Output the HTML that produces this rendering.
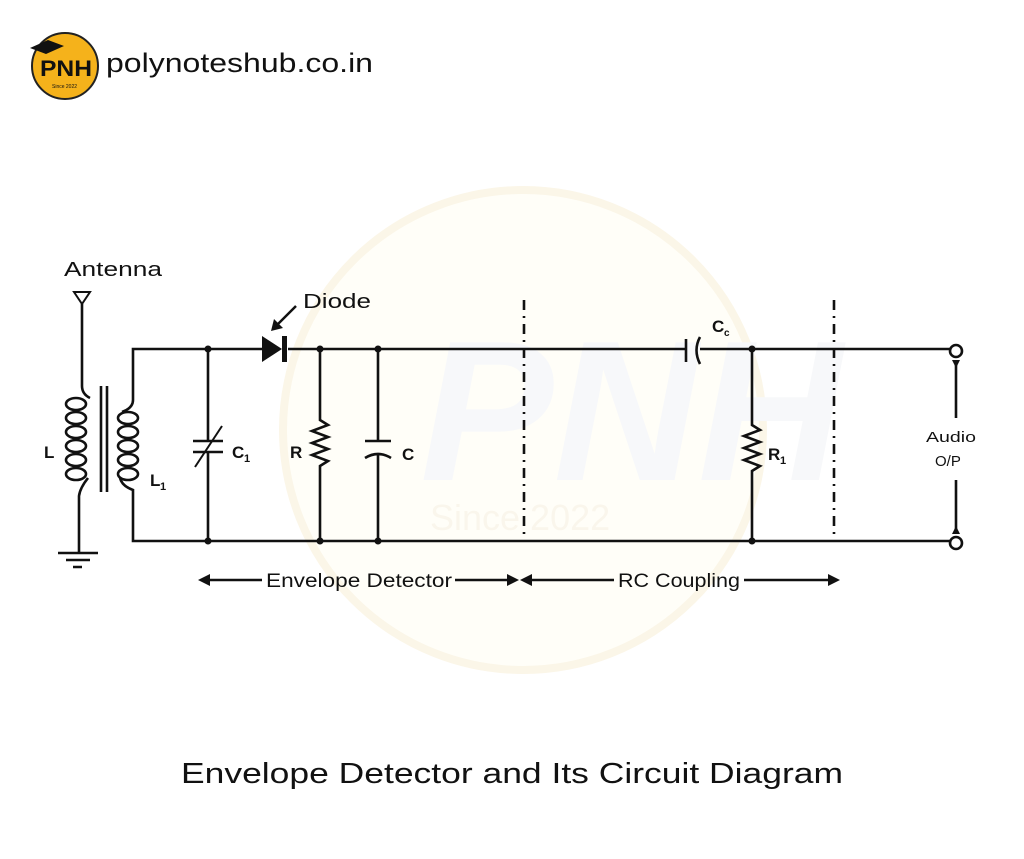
<!DOCTYPE html>
<html><head><meta charset="utf-8"><style>
html,body{margin:0;padding:0;background:#fff;}
svg{display:block}
</style></head><body>
<svg width="1024" height="859" viewBox="0 0 1024 859" xmlns="http://www.w3.org/2000/svg" font-family="Liberation Sans, sans-serif">
<rect width="1024" height="859" fill="#fff"/>
<!-- watermark -->
<circle cx="523" cy="430" r="240" fill="#fffef8" stroke="#fbf6e8" stroke-width="8"/>
<text x="420" y="480" font-size="200" font-weight="bold" fill="#f7f8fa" font-style="italic">PNH</text>
<text x="430" y="530" font-size="36" fill="#faf6ec">Since 2022</text>

<!-- logo -->
<circle cx="65" cy="66" r="33" fill="#f5b21b" stroke="#222" stroke-width="2"/>
<polygon points="30,48 48,40 64,46 46,54" fill="#111"/>
<text x="40" y="76" font-size="22" font-weight="bold" fill="#111" textLength="52" lengthAdjust="spacingAndGlyphs">PNH</text>
<text x="52" y="88" font-size="5" fill="#111">Since 2022</text>
<text x="106" y="72" font-size="27" fill="#111" textLength="267" lengthAdjust="spacingAndGlyphs">polynoteshub.co.in</text>

<g stroke="#111" stroke-width="2.6" fill="none">
<polygon points="74,292 90,292 82,304" stroke-width="2"/>
<path d="M82,304 V386 Q82,394 90,398"/>
<ellipse cx="76" cy="404" rx="10" ry="6"/>
<ellipse cx="76" cy="418" rx="10" ry="6"/>
<ellipse cx="76" cy="432" rx="10" ry="6"/>
<ellipse cx="76" cy="446" rx="10" ry="6"/>
<ellipse cx="76" cy="460" rx="10" ry="6"/>
<ellipse cx="76" cy="474" rx="10" ry="6"/>
<path d="M88,478 Q80,488 79,496 V553"/>
<path d="M58,553 H98 M66,560 H90 M73,567 H82"/>
<path d="M101,386 V492 M107,386 V492"/>
<path d="M208,349 H133 V400 Q133,408 122,412"/>
<ellipse cx="128" cy="418" rx="10" ry="6"/>
<ellipse cx="128" cy="432" rx="10" ry="6"/>
<ellipse cx="128" cy="446" rx="10" ry="6"/>
<ellipse cx="128" cy="460" rx="10" ry="6"/>
<ellipse cx="128" cy="474" rx="10" ry="6"/>
<path d="M120,478 Q122,486 133,490 V541 H952"/>
<path d="M208,349 H264 M288,349 H686 M700,349 H950"/>
<path d="M208,349 V441 M193,441 H223 M193,452 H223 M208,452 V541"/>
<path d="M195,467 L222,426" stroke-width="2"/>
<path d="M320,349 V420 L328,425 L312,431 L328,437 L312,443 L328,449 L312,455 L328,461 L320,466 V541"/>
<path d="M378,349 V441 M365,441 H391 M365,458 Q378,450 391,458 M378,453 V541"/>
<path d="M686,339 V362 M700,337 Q693,350 700,364"/>
<path d="M752,349 V425 L760,430 L744,436 L760,442 L744,448 L760,454 L744,460 L760,466 L752,471 V541"/>
<path d="M956,360 V418 M956,480 V534"/>
</g>
<polygon points="262,336 262,362 282,349" fill="#111"/>
<rect x="282" y="336" width="5" height="26" fill="#111"/>
<g fill="#111">
<circle cx="208" cy="349" r="3.5"/><circle cx="320" cy="349" r="3.5"/><circle cx="378" cy="349" r="3.5"/><circle cx="752" cy="349" r="3.5"/>
<circle cx="208" cy="541" r="3.5"/><circle cx="320" cy="541" r="3.5"/><circle cx="378" cy="541" r="3.5"/><circle cx="752" cy="541" r="3.5"/>
<polygon points="952,360 960,360 956,368"/><polygon points="952,534 960,534 956,526"/>
</g>
<circle cx="956" cy="351" r="6" fill="#fff" stroke="#111" stroke-width="2.6"/>
<circle cx="956" cy="543" r="6" fill="#fff" stroke="#111" stroke-width="2.6"/>
<path d="M524,300 V540 M834,300 V540" stroke="#111" stroke-width="2.6" stroke-dasharray="10,6,2,6"/>
<path d="M296,306 L276,326" stroke="#111" stroke-width="2.5"/>
<polygon points="271,331 274,319 283,328" fill="#111"/>

<g fill="#111" font-weight="bold" font-size="17">
<text x="44" y="458">L</text>
<text x="150" y="486">L</text><text x="160" y="490" font-size="11">1</text>
<text x="232" y="458">C</text><text x="244" y="462" font-size="11">1</text>
<text x="290" y="458">R</text>
<text x="402" y="460">C</text>
<text x="712" y="332">C</text><text x="724" y="336" font-size="10">c</text>
<text x="768" y="460">R</text><text x="780" y="464" font-size="11">1</text>
</g>
<g fill="#111" font-size="20">
<text x="64" y="276" textLength="98" lengthAdjust="spacingAndGlyphs">Antenna</text>
<text x="303" y="308" textLength="68" lengthAdjust="spacingAndGlyphs">Diode</text>
</g>
<text x="926" y="442" font-size="15" fill="#111" textLength="50" lengthAdjust="spacingAndGlyphs">Audio</text>
<text x="935" y="466" font-size="15" fill="#111">O/P</text>

<g stroke="#111" stroke-width="2.6">
<path d="M204,580 H262 M455,580 H512 M528,580 H614 M744,580 H832"/>
</g>
<g fill="#111">
<polygon points="198,580 210,574 210,586"/>
<polygon points="519,580 507,574 507,586"/>
<polygon points="520,580 532,574 532,586"/>
<polygon points="840,580 828,574 828,586"/>
</g>
<text x="266" y="587" font-size="19" fill="#111" textLength="186" lengthAdjust="spacingAndGlyphs">Envelope Detector</text>
<text x="618" y="587" font-size="19" fill="#111" textLength="122" lengthAdjust="spacingAndGlyphs">RC Coupling</text>

<text x="181" y="783" font-size="29" fill="#111" textLength="662" lengthAdjust="spacingAndGlyphs">Envelope Detector and Its Circuit Diagram</text>
</svg>
</body></html>
